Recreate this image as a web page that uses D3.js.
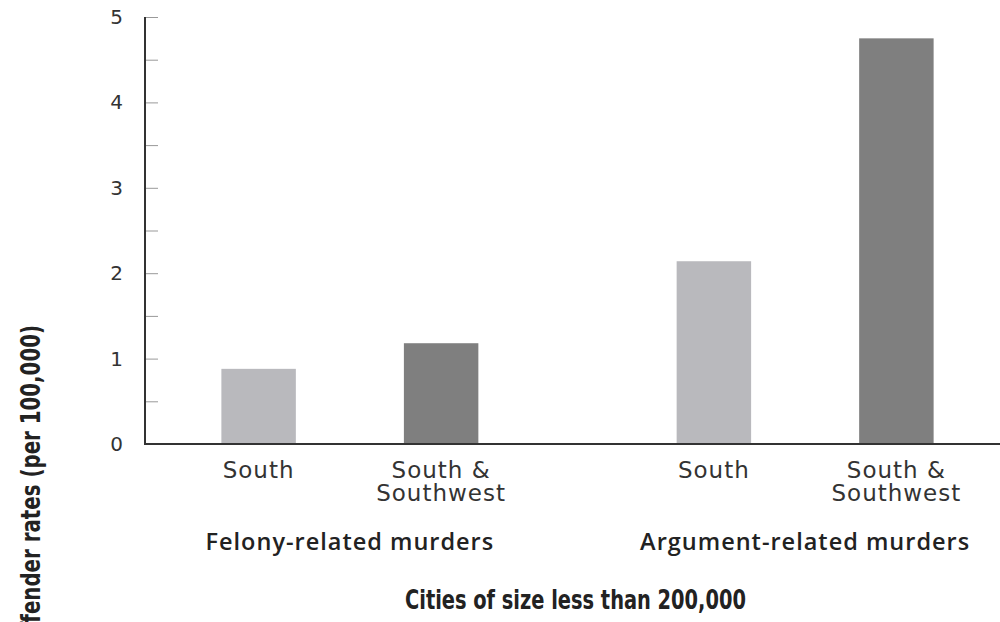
<!DOCTYPE html>
<html>
<head>
<meta charset="utf-8">
<script src="https://cdnjs.cloudflare.com/ajax/libs/d3/7.8.5/d3.min.js"></script>
<style>
  html, body { margin: 0; padding: 0; background: #fff; }
  svg { display: block; }
  .tick-label { font-family: "DejaVu Sans", sans-serif; font-size: 20px; fill: #333; }
  .cat-label { font-family: "DejaVu Sans", sans-serif; font-size: 23px; fill: #333; letter-spacing: 1px; }
  .group-label { font-family: "Open Sans", sans-serif; font-weight: 600; font-size: 23.5px; fill: #222; letter-spacing: 1px; }
  .axis-title { font-family: "DejaVu Sans Condensed", "DejaVu Sans", sans-serif; font-weight: 600; font-size: 27px; fill: #222; }
</style>
</head>
<body>
<svg id="chart"></svg>
<script>
// chart data
const groups = ["Felony-related murders", "Argument-related murders"];
const regions = ["South", "South & Southwest"];
const regionLines = [["South"], ["South &", "Southwest"]];
const southValues = [0.88, 2.14];
const southSouthwestValues = [1.18, 4.75];
const yTickValues = [0, 1, 2, 3, 4, 5];
const yMinorTicks = [0, 0.5, 1, 1.5, 2, 2.5, 3, 3.5, 4, 4.5, 5];
const xTitle = "Cities of size less than 200,000";
const yTitle = "Offender rates (per 100,000)";

const barColors = ["#b9b9bd", "#7f7f7f"];

const config = {
  width: 1000,
  height: 622,
  margin: { top: 17, right: 0, bottom: 178, left: 145 }
};

const innerWidth = config.width - config.margin.left - config.margin.right;
const innerHeight = config.height - config.margin.top - config.margin.bottom;

const svg = d3.select('#chart')
  .attr('width', config.width)
  .attr('height', config.height);

const chart = svg.append('g')
  .attr('transform', `translate(${config.margin.left}, ${config.margin.top})`);

// build a row per bar
const data = [];
groups.forEach((g, i) => {
  data.push({ group: g, region: regions[0], value: southValues[i] });
  data.push({ group: g, region: regions[1], value: southSouthwestValues[i] });
});

const x0 = d3.scaleBand()
  .domain(groups)
  .range([0, innerWidth + 10])
  .paddingInner(0.1)
  .paddingOuter(0);

const x1 = d3.scaleBand()
  .domain(regions)
  .range([0, x0.bandwidth()])
  .paddingInner(0.592)
  .paddingOuter(0.4185);

const yScale = d3.scaleLinear()
  .domain([0, 5])
  .range([innerHeight, 0]);

const color = d3.scaleOrdinal().domain(regions).range(barColors);

// bars
chart.append('g').selectAll('rect')
  .data(data)
  .join('rect')
  .attr('x', d => x0(d.group) + x1(d.region))
  .attr('width', x1.bandwidth())
  .attr('y', d => yScale(d.value))
  .attr('height', d => innerHeight - yScale(d.value))
  .attr('fill', d => color(d.region));

// y axis: minor ticks first (no labels)
const yMinor = d3.axisLeft(yScale)
  .tickValues(yMinorTicks)
  .tickSize(-13)
  .tickFormat('');
const yMinorGroup = chart.append('g').call(yMinor);
yMinorGroup.select('.domain').remove();
yMinorGroup.selectAll('.tick line').attr('stroke', '#999').attr('stroke-width', 1);

const yAxis = d3.axisLeft(yScale)
  .tickValues(yTickValues)
  .tickSize(0)
  .tickPadding(22)
  .tickFormat(d3.format('d'));
const yAxisGroup = chart.append('g').call(yAxis);
yAxisGroup.select('.domain').remove();
yAxisGroup.selectAll('.tick text')
  .attr('class', 'tick-label')
  .attr('font-family', null)
  .attr('font-size', null)
  .attr('fill', null);

// axis lines
chart.append('line')
  .attr('x1', 0).attr('x2', 0)
  .attr('y1', yScale(5)).attr('y2', innerHeight + 1)
  .attr('stroke', '#333').attr('stroke-width', 2);
chart.append('line')
  .attr('x1', 0).attr('x2', innerWidth)
  .attr('y1', innerHeight).attr('y2', innerHeight)
  .attr('stroke', '#333').attr('stroke-width', 2);

// category labels under each bar
const catLabels = chart.append('g');
groups.forEach(g => {
  regions.forEach((r, j) => {
    const cx = x0(g) + x1(r) + x1.bandwidth() / 2;
    const t = catLabels.append('text')
      .attr('class', 'cat-label')
      .attr('text-anchor', 'middle')
      .attr('x', cx)
      .attr('y', innerHeight + 34);
    regionLines[j].forEach((line, k) => {
      t.append('tspan')
        .attr('x', cx)
        .attr('dy', k === 0 ? 0 : 23)
        .text(line);
    });
  });
});

// group labels
chart.append('g').selectAll('text')
  .data(groups)
  .join('text')
  .attr('class', 'group-label')
  .attr('text-anchor', 'middle')
  .attr('x', d => x0(d) + x0.bandwidth() / 2)
  .attr('y', innerHeight + 106)
  .text(d => d);

// axis titles (condensed look)
svg.append('text')
  .attr('class', 'axis-title')
  .attr('text-anchor', 'middle')
  .attr('x', config.margin.left + innerWidth / 2 + 3)
  .attr('y', 609)
  .attr('textLength', 341)
  .attr('lengthAdjust', 'spacingAndGlyphs')
  .text(xTitle);

svg.append('text')
  .attr('class', 'axis-title')
  .attr('text-anchor', 'end')
  .attr('transform', 'translate(40, 325) rotate(-90)')
  .attr('textLength', 322)
  .attr('lengthAdjust', 'spacingAndGlyphs')
  .text(yTitle);
</script>
</body>
</html>
